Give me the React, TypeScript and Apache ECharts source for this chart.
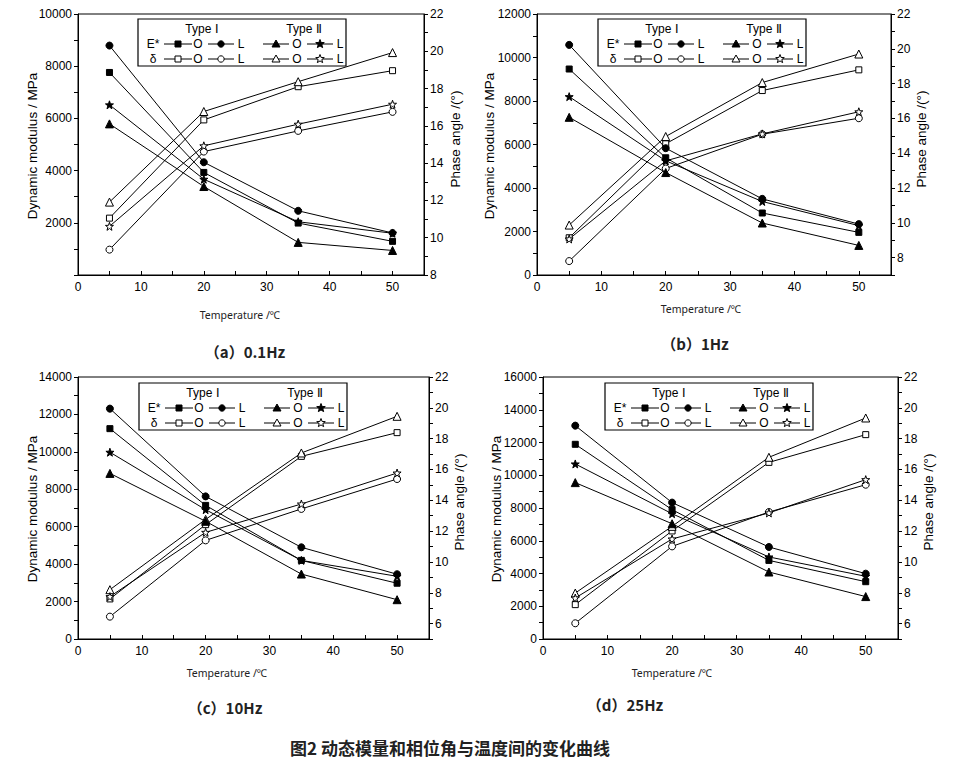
import React, { useEffect, useRef } from "react";
import * as echarts from "echarts";

// ---------- data ----------
const TEMPS = [5, 20, 35, 50];

// (a) 0.1Hz
const A_E_IO = [7760, 3930, 1990, 1290];
const A_E_IL = [8790, 4320, 2460, 1610];
const A_E_IIO = [5790, 3390, 1250, 940];
const A_E_IIL = [6520, 3670, 2040, 1600];
const A_D_IO = [11.05, 16.32, 18.1, 18.96];
const A_D_IL = [9.36, 14.62, 15.73, 16.75];
const A_D_IIO = [11.91, 16.77, 18.37, 19.93];
const A_D_IIL = [10.61, 14.93, 16.09, 17.16];

// (b) 1Hz
const B_E_IO = [9470, 5390, 2850, 1960];
const B_E_IL = [10580, 5830, 3500, 2340];
const B_E_IIO = [7250, 4710, 2390, 1360];
const B_E_IIL = [8200, 5250, 3380, 2270];
const B_D_IO = [9.14, 14.54, 17.6, 18.79];
const B_D_IL = [7.8, 13.12, 15.09, 16.01];
const B_D_IIO = [9.87, 14.96, 18.06, 19.7];
const B_D_IIL = [9.07, 13.56, 15.11, 16.38];

// (c) 10Hz
const C_E_IO = [11240, 7140, 4200, 2980];
const C_E_IL = [12310, 7620, 4900, 3460];
const C_E_IIO = [8850, 6290, 3470, 2100];
const C_E_IIL = [9980, 6910, 4200, 3350];
const C_D_IO = [7.6, 12.42, 16.85, 18.39];
const C_D_IL = [6.45, 11.4, 13.44, 15.38];
const C_D_IIO = [8.2, 12.76, 17.07, 19.45];
const C_D_IIL = [7.75, 11.92, 13.76, 15.77];

// (d) 25Hz
const D_E_IO = [11890, 7900, 4800, 3500];
const D_E_IL = [13030, 8330, 5620, 3990];
const D_E_IIO = [9550, 7040, 4090, 2590];
const D_E_IIL = [10690, 7650, 5010, 3830];
const D_D_IO = [7.23, 12.01, 16.46, 18.26];
const D_D_IL = [6.02, 11.01, 13.24, 15.01];
const D_D_IIO = [7.98, 12.31, 16.79, 19.34];
const D_D_IIL = [7.66, 11.49, 13.18, 15.34];

const LEFT_MAX = [10000, 12000, 14000, 16000];
const RIGHT_MIN = [8, 7, 5, 5];
const RIGHT_MAX = 22;
const CAPTIONS = ["（a）0.1Hz", "（b）1Hz", "（c）10Hz", "（d）25Hz"];
const TITLE = "图2 动态模量和相位角与温度间的变化曲线";
const X_NAME = "Temperature /℃";
const Y_LEFT_NAME = "Dynamic modulus / MPa";
const Y_RIGHT_NAME = "Phase angle /(°)";

const PANELS = [
  { E: [A_E_IO, A_E_IL, A_E_IIO, A_E_IIL], D: [A_D_IO, A_D_IL, A_D_IIO, A_D_IIL] },
  { E: [B_E_IO, B_E_IL, B_E_IIO, B_E_IIL], D: [B_D_IO, B_D_IL, B_D_IIO, B_D_IIL] },
  { E: [C_E_IO, C_E_IL, C_E_IIO, C_E_IIL], D: [C_D_IO, C_D_IL, C_D_IIO, C_D_IIL] },
  { E: [D_E_IO, D_E_IL, D_E_IIO, D_E_IIL], D: [D_D_IO, D_D_IL, D_D_IIO, D_D_IIL] },
];

// ---------- layout ----------
const GRIDS = [
  { left: 78, top: 14, width: 346, height: 261 },
  { left: 537, top: 14, width: 354, height: 261 },
  { left: 78, top: 377, width: 351, height: 262 },
  { left: 543, top: 377, width: 355, height: 262 },
];
const LEGEND_POS = [
  [138, 19],
  [598, 19],
  [139, 383],
  [605, 383],
];
const LEFT_NAME_POS = [
  [32, 146],
  [489, 146],
  [32, 509],
  [496, 509],
];
const RIGHT_NAME_POS = [
  [455, 139],
  [921, 139],
  [459, 502],
  [928, 502],
];
const X_NAME_POS = [
  [240, 315],
  [701, 309],
  [227, 673],
  [672, 673],
];
const CAPTION_POS = [
  [245, 351],
  [695, 343],
  [225, 707],
  [625, 704],
];

const TICK_FONT = "'Liberation Sans', Arial, sans-serif";

function starPoints(R: number, r: number) {
  const pts: number[][] = [];
  for (let k = 0; k < 10; k++) {
    const a = -Math.PI / 2 + (k * Math.PI) / 5;
    const rr = k % 2 === 0 ? R : r;
    pts.push([rr * Math.cos(a), rr * Math.sin(a)]);
  }
  return pts;
}
const STAR_PATH =
  "path://M" +
  starPoints(10, 4)
    .map((p) => `${(p[0] + 10).toFixed(2)},${(p[1] + 10).toFixed(2)}`)
    .join("L") +
  "Z";

// symbol kinds: 0 square, 1 circle, 2 triangle, 3 star
const SYMBOLS = ["rect", "circle", "triangle", STAR_PATH];
const SYM_SIZES = [6, 7, 8, 8];

function legendMarker(kind: number, cx: number, cy: number, filled: boolean) {
  const style = { fill: filled ? "#000" : "#fff", stroke: "#000", lineWidth: 1 };
  if (kind === 0) return { type: "rect", shape: { x: cx - 3, y: cy - 3, width: 6, height: 6 }, style };
  if (kind === 1) return { type: "circle", shape: { cx, cy, r: 3.2 }, style };
  if (kind === 2)
    return {
      type: "polygon",
      shape: { points: [[cx, cy - 4], [cx + 4, cy + 3], [cx - 4, cy + 3]] },
      style,
    };
  return {
    type: "polygon",
    shape: { points: starPoints(4.5, 1.9).map((p) => [cx + p[0], cy + p[1]]) },
    style,
  };
}

function legendGroup(left: number, top: number) {
  const font = `12px ${TICK_FONT}`;
  const children: any[] = [
    {
      type: "rect",
      shape: { x: 0, y: 0, width: 208, height: 47 },
      style: { fill: "#fff", stroke: "#000", lineWidth: 1.2 },
    },
    { type: "text", x: 64, y: 10, style: { text: "Type Ⅰ", font, fill: "#000", align: "center", verticalAlign: "middle" } },
    { type: "text", x: 166, y: 10, style: { text: "Type Ⅱ", font, fill: "#000", align: "center", verticalAlign: "middle" } },
  ];
  const rows = [
    { y: 25, label: "E*", filled: true },
    { y: 40, label: "δ", filled: false },
  ];
  const segs = [
    { x1: 26, x2: 54, m: 40, t: "O", tx: 60, kind: 0 },
    { x1: 70, x2: 96, m: 83, t: "L", tx: 103, kind: 1 },
    { x1: 125, x2: 151, m: 138, t: "O", tx: 159, kind: 2 },
    { x1: 169, x2: 195, m: 182, t: "L", tx: 202, kind: 3 },
  ];
  rows.forEach((row) => {
    children.push({
      type: "text",
      x: 15,
      y: row.y,
      style: { text: row.label, font, fill: "#000", align: "center", verticalAlign: "middle" },
    });
    segs.forEach((s) => {
      children.push({
        type: "line",
        shape: { x1: s.x1, y1: row.y, x2: s.x2, y2: row.y },
        style: { stroke: "#000", lineWidth: 1 },
      });
      children.push(legendMarker(s.kind, s.m, row.y, row.filled));
      children.push({
        type: "text",
        x: s.tx,
        y: row.y,
        style: { text: s.t, font, fill: "#000", align: "center", verticalAlign: "middle" },
      });
    });
  });
  return { type: "group", x: left, y: top, z: 100, children };
}

function buildOption() {
  const grid: any[] = [];
  const xAxis: any[] = [];
  const yAxis: any[] = [];
  const series: any[] = [];
  const graphic: any[] = [];

  PANELS.forEach((panel, i) => {
    const g = GRIDS[i];
    grid.push({
      left: g.left,
      top: g.top,
      width: g.width,
      height: g.height,
      show: true,
      borderColor: "#000",
      borderWidth: 1,
      backgroundColor: "transparent",
    });
    xAxis.push({
      type: "value",
      gridIndex: i,
      min: 0,
      max: 55,
      interval: 5,
      position: "bottom",
      axisLine: { onZero: false, lineStyle: { color: "#000", width: 1 } },
      axisTick: { inside: true, length: 4, lineStyle: { color: "#000" } },
      axisLabel: {
        margin: 6,
        color: "#000",
        fontSize: 12,
        fontFamily: TICK_FONT,
        formatter: (v: number) => (v % 10 === 0 ? String(v) : ""),
      },
      splitLine: { show: false },
    });
    const hideZero = i === 0;
    yAxis.push({
      type: "value",
      gridIndex: i,
      position: "left",
      min: 0,
      max: LEFT_MAX[i],
      interval: 1000,
      axisLine: { show: true, onZero: false, lineStyle: { color: "#000", width: 1 } },
      axisTick: { show: true, inside: false, length: 4, lineStyle: { color: "#000" } },
      axisLabel: {
        margin: 6,
        color: "#000",
        fontSize: 12,
        fontFamily: TICK_FONT,
        formatter: (v: number) => (v % 2000 === 0 && !(hideZero && v === 0) ? String(v) : ""),
      },
      splitLine: { show: false },
    });
    yAxis.push({
      type: "value",
      gridIndex: i,
      position: "right",
      min: RIGHT_MIN[i],
      max: RIGHT_MAX,
      interval: 1,
      axisLine: { show: true, onZero: false, lineStyle: { color: "#000", width: 1 } },
      axisTick: { show: true, inside: false, length: 4, lineStyle: { color: "#000" } },
      axisLabel: {
        margin: 6,
        color: "#000",
        fontSize: 12,
        fontFamily: TICK_FONT,
        formatter: (v: number) => (v % 2 === 0 ? String(v) : ""),
      },
      splitLine: { show: false },
    });

    const addSeries = (arr: number[], yIdx: number, kind: number, filled: boolean) => {
      series.push({
        type: "line",
        xAxisIndex: i,
        yAxisIndex: yIdx,
        data: TEMPS.map((t, k) => [t, arr[k]]),
        symbol: SYMBOLS[kind],
        symbolSize: SYM_SIZES[kind],
        showAllSymbol: true,
        lineStyle: { color: "#000", width: 1 },
        itemStyle: { color: filled ? "#000" : "#fff", borderColor: "#000", borderWidth: 1 },
        silent: true,
        z: filled ? 3 : 2,
      });
    };
    panel.E.forEach((arr, k) => addSeries(arr, i * 2, k, true));
    panel.D.forEach((arr, k) => addSeries(arr, i * 2 + 1, k, false));

    graphic.push(legendGroup(LEGEND_POS[i][0], LEGEND_POS[i][1]));
    graphic.push({
      type: "text",
      x: LEFT_NAME_POS[i][0],
      y: LEFT_NAME_POS[i][1],
      rotation: Math.PI / 2,
      style: {
        text: Y_LEFT_NAME,
        font: `13.5px 'Liberation Sans', Arial, sans-serif`,
        fill: "#000",
        align: "center",
        verticalAlign: "middle",
      },
    });
    graphic.push({
      type: "text",
      x: RIGHT_NAME_POS[i][0],
      y: RIGHT_NAME_POS[i][1],
      rotation: Math.PI / 2,
      style: {
        text: Y_RIGHT_NAME,
        font: `13.5px 'Liberation Sans', Arial, sans-serif`,
        fill: "#000",
        align: "center",
        verticalAlign: "middle",
      },
    });
    graphic.push({
      type: "text",
      x: X_NAME_POS[i][0],
      y: X_NAME_POS[i][1],
      style: {
        text: X_NAME,
        font: `10.5px 'Noto Sans', 'Noto Sans CJK SC', sans-serif`,
        fill: "#222",
        align: "center",
        verticalAlign: "middle",
      },
    });
    graphic.push({
      type: "text",
      x: CAPTION_POS[i][0],
      y: CAPTION_POS[i][1],
      style: {
        text: CAPTIONS[i],
        font: `bold 15px 'Noto Sans CJK SC', sans-serif`,
        fill: "#222",
        align: "center",
        verticalAlign: "middle",
      },
    });
  });

  graphic.push({
    type: "text",
    x: 450,
    y: 747,
    style: {
      text: TITLE,
      font: `bold 17px 'Noto Sans CJK SC', sans-serif`,
      fill: "#222",
      align: "center",
      verticalAlign: "middle",
    },
  });

  return {
    animation: false,
    backgroundColor: "#fff",
    grid,
    xAxis,
    yAxis,
    series,
    graphic,
  };
}

export default function App() {
  const ref = useRef<HTMLDivElement>(null);
  useEffect(() => {
    if (!ref.current) return;
    const chart = echarts.init(ref.current, undefined, { renderer: "svg" });
    chart.setOption(buildOption() as any);
    return () => chart.dispose();
  }, []);
  return (
    <div
      ref={ref}
      style={{ position: "fixed", left: 0, top: 0, width: 969, height: 763, background: "#fff" }}
    />
  );
}
